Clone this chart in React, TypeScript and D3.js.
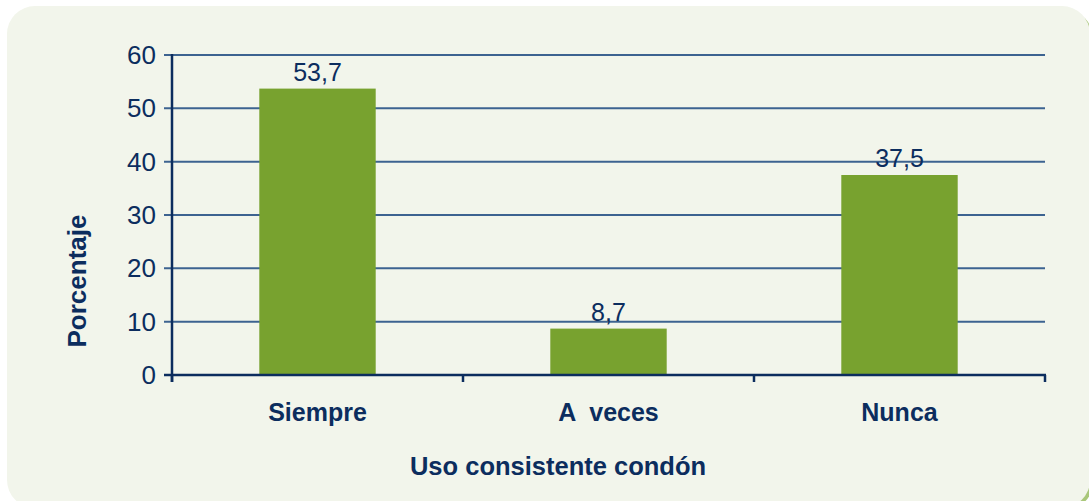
import React from 'react';
import * as d3 from 'd3';

const categories = ['Siempre', 'A  veces', 'Nunca'];
const values = [53.7, 8.7, 37.5];
const valueLabels = ['53,7', '8,7', '37,5'];
const yTicks = [0, 10, 20, 30, 40, 50, 60];

const NAVY = '#0c2d5e';
const GRID = '#3d6390';
const BAR = '#78a22f';
const FONT = 'Liberation Sans, Arial, Helvetica, sans-serif';

export default function App() {
  const width = 1089;
  const height = 501;
  const left = 172;
  const right = 1045;
  const top = 55;
  const bottom = 375;

  const x = d3.scaleBand<string>()
    .domain(categories)
    .range([left, right])
    .paddingInner(0.6)
    .paddingOuter(0.3);

  const y = d3.scaleLinear().domain([0, 60]).range([bottom, top]);

  const step = (right - left) / categories.length;
  const boundaries = d3.range(categories.length + 1).map(i => left + i * step);

  return (
    <svg width={width} height={height} style={{ position: 'absolute', left: 0, top: 0, background: '#ffffff' }}>
      {/* panel */}
      <rect x={10} y={10} width={1083} height={500} rx={28} fill="#a9c77a" />
      <rect x={7} y={6} width={1083} height={502} rx={28} fill="#f2f5eb" />

      {/* grid lines */}
      {yTicks.filter(t => t > 0).map(t => (
        <line key={t} x1={left - 8} x2={right} y1={y(t)} y2={y(t)} stroke={GRID} strokeWidth={2} />
      ))}

      {/* bars */}
      {categories.map((c, i) => (
        <rect key={c} x={x(c)!} y={y(values[i])} width={x.bandwidth()} height={y(0) - y(values[i])} fill={BAR} />
      ))}

      {/* value labels */}
      {categories.map((c, i) => (
        <text key={c} x={x(c)! + x.bandwidth() / 2} y={y(values[i]) - 8} textAnchor="middle"
          fontFamily={FONT} fontSize={25} fill={NAVY}>{valueLabels[i]}</text>
      ))}

      {/* y axis */}
      <line x1={left} x2={left} y1={y(60) - 1} y2={bottom + 7} stroke={NAVY} strokeWidth={2.5} />
      <line x1={left - 8} x2={left} y1={y(0)} y2={y(0)} stroke={NAVY} strokeWidth={2.5} />
      {yTicks.map(t => (
        <text key={t} x={left - 16} y={y(t) + 9} textAnchor="end" fontFamily={FONT} fontSize={26} fill={NAVY}>{t}</text>
      ))}

      {/* x axis */}
      <line x1={left} x2={right + 1} y1={bottom} y2={bottom} stroke={NAVY} strokeWidth={2.5} />
      {boundaries.map((b, i) => (
        <line key={i} x1={b} x2={b} y1={bottom} y2={bottom + 7} stroke={NAVY} strokeWidth={2.5} />
      ))}
      {categories.map(c => (
        <text key={c} x={x(c)! + x.bandwidth() / 2} y={421} textAnchor="middle" fontFamily={FONT}
          fontSize={25} fontWeight="bold" fill={NAVY} style={{ whiteSpace: 'pre' }}>{c}</text>
      ))}

      {/* axis titles */}
      <text x={558} y={475} textAnchor="middle" fontFamily={FONT} fontSize={25.5} fontWeight="bold" fill={NAVY}>
        Uso consistente condón
      </text>
      <text transform="translate(86,281) rotate(-90)" textAnchor="middle" fontFamily={FONT} fontSize={26}
        fontWeight="bold" fill={NAVY}>Porcentaje</text>
    </svg>
  );
}
